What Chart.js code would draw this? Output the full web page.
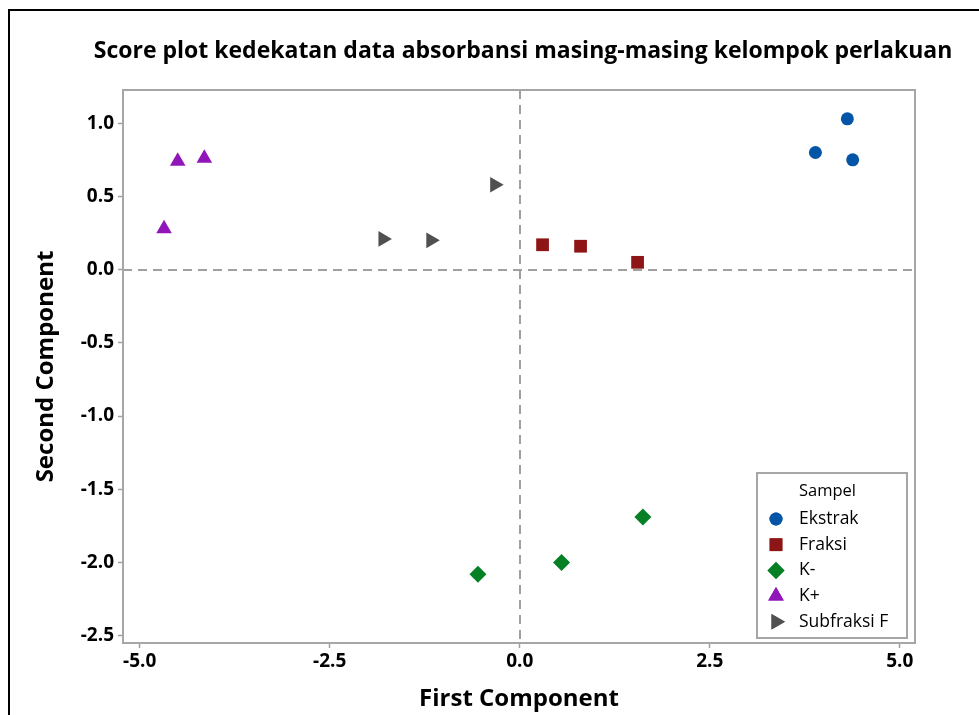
<!DOCTYPE html>
<html><head><meta charset="utf-8">
<script src="https://cdn.jsdelivr.net/npm/chart.js@4"></script>
<style>html,body{margin:0;padding:0;background:#fff}#wrap{width:979px;height:715px}</style>
</head><body><div id="wrap"><canvas id="c" width="979" height="715"></canvas></div>
<script>
const titleText = 'Score plot kedekatan data absorbansi masing-masing kelompok perlakuan';
const xTitle = 'First Component';
const yTitle = 'Second Component';
const legendTitle = 'Sampel';
const xTicks = [-5.0, -2.5, 0.0, 2.5, 5.0];
const yTicks = [1.0, 0.5, 0.0, -0.5, -1.0, -1.5, -2.0, -2.5];
const seriesNames = ['Ekstrak', 'Fraksi', 'K-', 'K+', 'Subfraksi F'];
const ekstrakX = [3.89, 4.31, 4.38];
const ekstrakY = [0.80, 1.03, 0.75];
const fraksiX = [0.30, 0.80, 1.55];
const fraksiY = [0.17, 0.16, 0.05];
const kMinX = [-0.55, 0.55, 1.62];
const kMinY = [-2.08, -2.00, -1.69];
const kPlusX = [-4.68, -4.50, -4.15];
const kPlusY = [0.28, 0.74, 0.76];
const subX = [-1.80, -1.17, -0.33];
const subY = [0.21, 0.20, 0.58];

const pts = (xs, ys) => xs.map((x, i) => ({x, y: ys[i]}));
const FONT = '"Open Sans", "Noto Sans", sans-serif';

const styles = [
  {color:'#0455A8', pointStyle:'circle', r:6.5, rot:0},
  {color:'#8E1515', pointStyle:'rect', r:9, rot:0},
  {color:'#058025', pointStyle:'rectRot', r:8.5, rot:0},
  {color:'#9116BA', pointStyle:'triangle', r:9, rot:0},
  {color:'#505050', pointStyle:'triangle', r:9, rot:90}
];
const seriesData = [pts(ekstrakX, ekstrakY), pts(fraksiX, fraksiY), pts(kMinX, kMinY), pts(kPlusX, kPlusY), pts(subX, subY)];

const datasets = seriesNames.map((n, i) => ({
  label: n,
  data: seriesData[i],
  backgroundColor: styles[i].color,
  borderColor: styles[i].color,
  borderWidth: 0,
  pointStyle: styles[i].pointStyle,
  pointRadius: styles[i].r,
  pointRotation: styles[i].rot,
  pointHoverRadius: styles[i].r
}));

const tickFont = {family: FONT, size: 19, weight: 'bold'};

const framePlugin = {
  id: 'frame',
  beforeDraw(chart) {
    const ctx = chart.ctx;
    ctx.save();
    ctx.fillStyle = '#fff';
    ctx.fillRect(0, 0, chart.width, chart.height);
    ctx.strokeStyle = '#000';
    ctx.lineWidth = 2;
    ctx.beginPath();
    ctx.moveTo(9, chart.height);
    ctx.lineTo(9, 10);
    ctx.lineTo(chart.width, 10);
    ctx.stroke();
    ctx.fillStyle = '#000';
    ctx.textAlign = 'center';
    ctx.textBaseline = 'middle';
    ctx.font = 'bold 23px ' + FONT;
    ctx.fillText(titleText, 523, 51);
    ctx.restore();
  },
  beforeDatasetsDraw(chart) {
    const {ctx, chartArea: a, scales} = chart;
    ctx.save();
    ctx.strokeStyle = '#a0a0a0';
    ctx.lineWidth = 2;
    ctx.setLineDash([9, 6]);
    const x0 = Math.round(scales.x.getPixelForValue(0));
    const y0 = Math.round(scales.y.getPixelForValue(0));
    ctx.beginPath();
    ctx.moveTo(x0, a.top); ctx.lineTo(x0, a.bottom);
    ctx.moveTo(a.left, y0); ctx.lineTo(a.right, y0);
    ctx.stroke();
    ctx.setLineDash([]);
    ctx.strokeStyle = '#a6a6a6';
    ctx.lineWidth = 2;
    ctx.strokeRect(a.left, a.top, a.right - a.left, a.bottom - a.top);
    ctx.restore();
  },
  afterDraw(chart) {
    const {ctx, chartArea: a} = chart;
    const bx = a.right - 158, by = a.bottom - 170, bw = 150, bh = 165;
    ctx.save();
    ctx.fillStyle = '#fff';
    ctx.fillRect(bx, by, bw, bh);
    ctx.strokeStyle = '#a6a6a6';
    ctx.lineWidth = 2;
    ctx.strokeRect(bx, by, bw, bh);
    ctx.fillStyle = '#000';
    ctx.textBaseline = 'middle';
    ctx.font = '16.5px ' + FONT;
    ctx.fillText(legendTitle, bx + 42, by + 18);
    chart.data.datasets.forEach((ds, i) => {
      const yy = by + 46 + i * 25.7;
      ctx.fillStyle = ds.backgroundColor;
      const r = ds.pointRadius;
      Chart.helpers.drawPoint(ctx, {pointStyle: ds.pointStyle, rotation: ds.pointRotation, radius: r, borderWidth: 0}, bx + 19, yy);
      ctx.fill();
      ctx.fillStyle = '#000';
      ctx.font = '17.5px ' + FONT;
      ctx.fillText(ds.label, bx + 42, yy);
    });
    ctx.restore();
  }
};

new Chart(document.getElementById('c'), {
  type: 'scatter',
  data: {datasets},
  options: {
    responsive: false,
    animation: false,
    layout: {padding: {left: 10, right: 64, top: 90, bottom: 0}},
    plugins: {
      legend: {display: false},
      tooltip: {enabled: false},
      title: {display: false}
    },
    scales: {
      x: {
        type: 'linear', min: -5.22, max: 5.2,
        afterBuildTicks: s => { s.ticks = xTicks.map(v => ({value: v})); },
        afterFit: s => { s.height = 72; },
        ticks: {color: '#000', font: tickFont, padding: 2, callback: v => Number(v).toFixed(1), maxRotation: 0, autoSkip: false},
        grid: {drawOnChartArea: false, drawTicks: true, tickLength: 5, tickColor: '#a0a0a0', tickWidth: 1.5},
        border: {display: false},
        title: {display: true, text: xTitle, color: '#000', font: {family: FONT, size: 24, weight: 'bold'}, padding: {top: 4, bottom: 1}}
      },
      y: {
        type: 'linear', min: -2.55, max: 1.227,
        afterBuildTicks: s => { s.ticks = yTicks.map(v => ({value: v})); },
        afterFit: s => { s.width = 113; },
        ticks: {color: '#000', font: tickFont, padding: 4, callback: v => Number(v).toFixed(1), autoSkip: false},
        grid: {drawOnChartArea: false, drawTicks: true, tickLength: 5, tickColor: '#a0a0a0', tickWidth: 1.5},
        border: {display: false},
        title: {display: true, text: yTitle, color: '#000', font: {family: FONT, size: 24, weight: 'bold'}, padding: {top: 22, bottom: 0}}
      }
    }
  },
  plugins: [framePlugin]
});
</script>
</body></html>
